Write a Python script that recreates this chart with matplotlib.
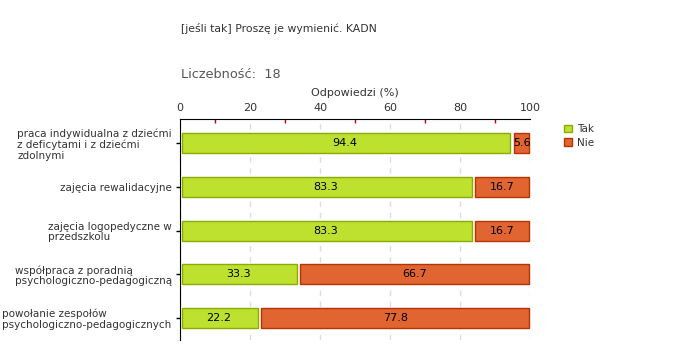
import matplotlib.pyplot as plt
import numpy as np

categories = [
    "praca indywidualna z dziećmi\nz deficytami i z dziećmi\nzdolnymi",
    "zajęcia rewalidacyjne",
    "zajęcia logopedyczne w\nprzedszkolu",
    "współpraca z poradnią\npsychologiczno-pedagogiczną",
    "powołanie zespołów\npsychologiczno-pedagogicznych",
]
tak = [94.4, 83.3, 83.3, 33.3, 22.2]
nie = [5.6, 16.7, 16.7, 66.7, 77.8]
series_names = ["Tak", "Nie"]

green = "#bde12e"
green_edge = "#8aab00"
red = "#e06530"
red_edge = "#b83200"
txt = "#333333"

plt.rcParams['font.family'] = ['DejaVu Sans']

fig = plt.figure(figsize=(6.8, 3.6), dpi=100)
ax = fig.add_axes([180 / 680, 1 - 340 / 360, 350 / 680, 221 / 360])

y = np.arange(len(categories))
h = 20 / 43.75
gap = 1.0
b1 = ax.barh(y, np.array(tak) - 0.6, left=0.6, height=h, color=green,
             edgecolor=green_edge, linewidth=1, label=series_names[0], zorder=3)
b2 = ax.barh(y, np.array(nie) - gap - 0.15, left=np.array(tak) + gap, height=h, color=red,
             edgecolor=red_edge, linewidth=1, label=series_names[1], zorder=3)
for p in list(b1) + list(b2):
    p.set_clip_on(False)

for i in range(len(categories)):
    ax.text(tak[i] / 2, y[i], f"{tak[i]:.1f}", ha="center", va="center",
            fontsize=8, color="black", zorder=4)
    ax.text(tak[i] + nie[i] / 2 + 0.5, y[i], f"{nie[i]:.1f}", ha="center", va="center",
            fontsize=8, color="black", zorder=4)

ax.set_xlim(0, 100)
ax.set_ylim(4.5, -0.55)
ax.xaxis.tick_top()
ax.xaxis.set_label_position("top")
ax.set_xticks([0, 20, 40, 60, 80, 100])
ax.set_xticks([10, 30, 50, 70, 90], minor=True)
ax.tick_params(axis="x", which="major", length=0, labelsize=8, labelcolor=txt, pad=4)
ax.tick_params(axis="x", which="minor", direction="in", length=3, color="#cc0000", width=1)
ax.set_xlabel("Odpowiedzi (%)", fontsize=8, color=txt, labelpad=5)

ax.set_yticks(y)
ax.set_yticklabels(categories, fontsize=7.5, color=txt, multialignment="left", linespacing=1.1)
ax.tick_params(axis="y", length=3, width=1, color="black", pad=3)

ax.grid(axis="x", which="major", color="#dddddd", linestyle=(0, (4, 4)), linewidth=1, zorder=0)
for s in ["right", "bottom"]:
    ax.spines[s].set_visible(False)
ax.spines["left"].set_color("black")
ax.spines["top"].set_color("black")

ax.legend(loc="upper left", bbox_to_anchor=(555 / 680, 1 - 115 / 360),
          bbox_transform=fig.transFigure, frameon=False, fontsize=7.5,
          handlelength=0.7, handleheight=0.7, handletextpad=0.5, labelspacing=0.3,
          labelcolor=txt)

fig.text(181 / 680, 1 - 29 / 360, "[jeśli tak] Proszę je wymienić. KADN",
         fontsize=7.8, color=txt, va="center")
fig.text(181 / 680, 1 - 75 / 360, "Liczebność:  18",
         fontsize=9.3, color="#555555", va="center")

fig.savefig("out.png", dpi=100)
